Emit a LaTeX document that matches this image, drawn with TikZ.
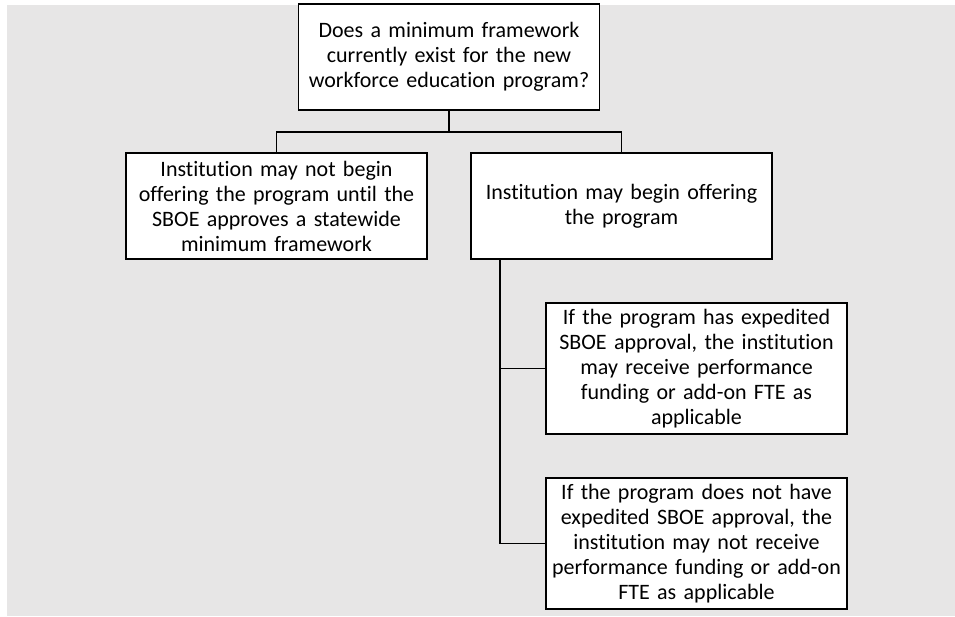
\documentclass[tikz,border=0pt]{standalone}
\usepackage{fontspec}
\setmainfont[Ligatures=NoCommon]{Carlito}
\definecolor{bggray}{HTML}{E7E6E6}
\begin{document}
\begin{tikzpicture}[x=1pt,y=-1pt,
  box/.style={draw=black, line width=1.4pt, fill=white, align=center,
    inner sep=0pt, minimum width=301pt, text width=300pt,
    font=\fontsize{22}{25}\selectfont},
  conn/.style={draw=black, line width=1.4pt}]
\useasboundingbox (0,0) rectangle (955,616);
\fill[bggray] (7,5) rectangle (955,616);
\node[box, minimum height=106pt] (top) at (449,57) {Does a minimum framework\\currently exist for the new\\workforce education program?};
\node[box, minimum height=106pt] (left) at (276.5,206) {Institution may not begin\\offering the program until the\\SBOE approves a statewide\\minimum framework};
\node[box, minimum height=106pt] (right) at (621.5,206) {Institution may begin offering\\the program};
\node[box, minimum height=131pt] (b3) at (696.5,368.5) {If the program has expedited\\SBOE approval, the institution\\may receive performance\\funding or add-on FTE as\\applicable};
\node[box, minimum height=131pt] (b4) at (696.5,543.5) {If the program does not have\\expedited SBOE approval, the\\institution may not receive\\performance funding or add-on\\FTE as applicable};
\coordinate (split) at (449,132);
\draw[conn] (top.south) -- (split);
\draw[conn] (split) -| (left.north);
\draw[conn] (split) -| (right.north);
\coordinate (spine) at ([xshift=29.5pt]right.south west);
\draw[conn] (spine) |- (b3.west);
\draw[conn] (spine) |- (b4.west);
\end{tikzpicture}
\end{document}
